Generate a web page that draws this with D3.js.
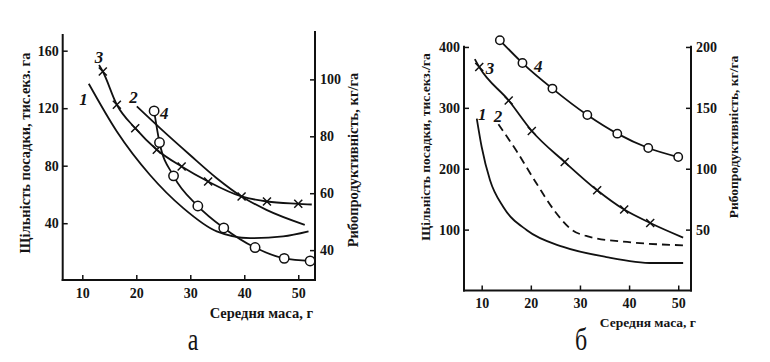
<!DOCTYPE html>
<html>
<head>
<meta charset="utf-8">
<script src="https://cdn.jsdelivr.net/npm/d3@7"></script>
<style>
    body { margin: 0; background: #fff; }
</style>
</head>
<body>
<div id="chart"></div>
<script>

/* * * * * * * * * * * * * *
*     Panel a  (left)      *
* * * * * * * * * * * * * */

// curve 1
const aMass1 = [11.2, 16.4, 22.5, 28.7, 34.9, 41.1, 47.2, 51.9];
const aVal1  = [137, 103.8, 73.7, 50.5, 34.3, 29.6, 30.8, 34.3];
// curve 2
const aMass2 = [20.1, 24.4, 29.9, 34.9, 39.5, 44.1, 51.2];
const aVal2  = [121.2, 106.1, 87.6, 71.3, 58.6, 49.3, 38.9];
// curve 3 (crosses), first and last point are line ends only
const aMass3 = [13.1, 13.8, 16.4, 19.8, 23.8, 28.4, 33.3, 39.5, 44.2, 50.0, 52.5];
const aVal3  = [150, 145.5, 122.4, 106.1, 91.1, 79.4, 69.0, 58.6, 55.1, 53.5, 53.0];
// curve 4 (circles) - right axis, kg/ha
const aMass4 = [23.3, 24.3, 26.9, 31.4, 36.2, 42.0, 47.4, 52.2];
const aVal4  = [88.9, 77.8, 66.1, 55.5, 47.8, 40.9, 37.1, 36.2];

const aMassTicks  = [10, 20, 30, 40, 50];
const aLeftTicks  = [40, 80, 120, 160];
const aRightTicks = [40, 60, 80, 100];
const aCurveNames = ["1", "2", "3", "4"];
const aNameMass   = [10.2, 19.5, 13.1, 25.2];
const aNameVal    = [126.7, 127.9, 155.7, 116.3];

/* * * * * * * * * * * * * *
*     Panel б  (right)     *
* * * * * * * * * * * * * */

const bMass1 = [9.0, 10.0, 11.7, 14.4, 19.2, 26.6, 35.4, 44.9, 51.0];
const bVal1  = [282.4, 235.7, 181.0, 137.2, 98.9, 71.5, 55.0, 45.2, 45.2];
// curve 2 is dashed
const bMass2 = [13.4, 17.1, 21.3, 25.0, 28.3, 31.8, 39.6, 51.0];
const bVal2  = [273, 229, 174, 129, 100, 88.5, 79.7, 74.2];
const bMass3 = [8.6, 9.5, 15.5, 20.2, 26.9, 33.5, 39.0, 44.3, 51.0];
const bVal3  = [380, 367, 312, 262, 211, 164.6, 132.9, 110.9, 86.9];
// curve 4 (circles) - right axis
const bMass4 = [13.7, 18.3, 24.4, 31.5, 37.6, 43.9, 50.0];
const bVal4  = [205.5, 186.8, 165.8, 144.1, 128.8, 117.0, 109.6];

const bMassTicks  = [10, 20, 30, 40, 50];
const bLeftTicks  = [100, 200, 300, 400];
const bRightTicks = [50, 100, 150, 200];
const bCurveNames = ["1", "2", "3", "4"];
const bNameMass   = [10.1, 13.3, 11.7, 21.5];
const bNameVal    = [289, 286, 366, 368];


const SERIF = "'Liberation Serif', 'Times New Roman', 'DejaVu Serif', serif";
const zip = (xs, ys) => xs.map((x, i) => [x, ys[i]]);

let svg = d3.select("#chart").append("svg")
    .attr("width", 770)
    .attr("height", 362)
    .style("font-family", SERIF);

svg.append("rect").attr("width", 770).attr("height", 362).attr("fill", "#fff");


function drawPanel(p) {
    let g = svg.append("g");

    let x = d3.scaleLinear().domain(p.xDomain).range([p.left, p.right]);
    let yL = d3.scaleLinear().domain(p.yLeftDomain).range([p.bottom, p.top]);
    let yR = d3.scaleLinear().domain(p.yRightDomain).range([p.bottom, p.top]);

    // axes, ticks point inwards
    g.append("g")
        .attr("transform", "translate(0," + p.bottom + ")")
        .call(d3.axisBottom(x).tickValues(p.xTicks).tickSize(-5).tickPadding(8))
        .call(a => a.select(".domain").remove());

    g.append("g")
        .attr("transform", "translate(" + p.left + ",0)")
        .call(d3.axisLeft(yL).tickValues(p.leftTicks).tickSize(-5).tickPadding(4))
        .call(a => a.select(".domain").remove());

    g.append("g")
        .attr("transform", "translate(" + p.right + ",0)")
        .call(d3.axisRight(yR).tickValues(p.rightTicks).tickSize(-5).tickPadding(5))
        .call(a => a.select(".domain").remove());

    g.selectAll(".tick line").attr("stroke", "#111").attr("stroke-width", 1.5);
    g.selectAll(".tick text")
        .style("font-family", SERIF)
        .style("font-size", "14px")
        .style("font-weight", "bold")
        .attr("fill", "#141414");

    // frame: left, right and bottom lines
    let frame = [
        [p.left, p.bottom, p.left, p.topLeft],
        [p.right, p.bottom, p.right, p.topRight],
        [p.left, p.bottom, p.right, p.bottom]
    ];
    frame.forEach(f => {
        g.append("line")
            .attr("x1", f[0]).attr("y1", f[1])
            .attr("x2", f[2]).attr("y2", f[3])
            .attr("stroke", "#111")
            .attr("stroke-width", 2)
            .attr("stroke-linecap", "square");
    });

    // curves
    p.series.forEach(s => {
        let yScale = s.axis === "right" ? yR : yL;
        let line = d3.line()
            .x(d => x(d[0]))
            .y(d => yScale(d[1]))
            .curve(d3.curveMonotoneX);

        g.append("path")
            .datum(s.points)
            .attr("d", line)
            .attr("fill", "none")
            .attr("stroke", "#111")
            .attr("stroke-width", 1.8)
            .attr("stroke-dasharray", s.dashed ? "8,5" : null);

        let pts = s.points.slice(s.markFrom, s.points.length - s.markSkipEnd);

        if (s.marker === "circle") {
            g.selectAll(null).data(pts).enter()
                .append("circle")
                .attr("cx", d => x(d[0]))
                .attr("cy", d => yScale(d[1]))
                .attr("r", p.circleR)
                .attr("fill", "#fff")
                .attr("stroke", "#111")
                .attr("stroke-width", 1.5);
        } else if (s.marker === "cross") {
            g.selectAll(null).data(pts).enter()
                .append("path")
                .attr("transform", d => "translate(" + x(d[0]) + "," + yScale(d[1]) + ")")
                .attr("d", "M-4,-4L4,4M-4,4L4,-4")
                .attr("stroke", "#111")
                .attr("stroke-width", 1.5);
        }
    });

    // curve numbers
    p.names.forEach((n, i) => {
        g.append("text")
            .attr("x", x(p.nameMass[i]))
            .attr("y", yL(p.nameVal[i]))
            .attr("dy", "0.35em")
            .attr("text-anchor", "middle")
            .attr("fill", "#141414")
            .style("font-size", "17px")
            .style("font-weight", "bold")
            .style("font-style", "italic")
            .text(n);
    });

    // axis titles
    g.append("text")
        .attr("transform", "translate(" + p.leftTitlePos[0] + "," + p.leftTitlePos[1] + ") rotate(-90)")
        .attr("text-anchor", "middle")
        .attr("fill", "#141414")
        .style("font-size", p.titleSize + "px")
        .style("font-weight", "bold")
        .text(p.leftTitle);

    g.append("text")
        .attr("transform", "translate(" + p.rightTitlePos[0] + "," + p.rightTitlePos[1] + ") rotate(-90)")
        .attr("text-anchor", "middle")
        .attr("fill", "#141414")
        .style("font-size", p.titleSize + "px")
        .style("font-weight", "bold")
        .text(p.rightTitle);

    g.append("text")
        .attr("x", p.xTitlePos[0])
        .attr("y", p.xTitlePos[1])
        .attr("text-anchor", "end")
        .attr("fill", "#141414")
        .style("font-size", p.titleSize + "px")
        .style("font-weight", "bold")
        .text("Середня маса, г");

    // panel letter
    g.append("text")
        .attr("transform", "translate(" + p.letterPos[0] + "," + p.letterPos[1] + ") scale(1,1.35)")
        .attr("text-anchor", "middle")
        .attr("fill", "#141414")
        .style("font-size", "24px")
        .text(p.letter);
}


drawPanel({
    left: 62.7, right: 315, bottom: 280, top: 33, topLeft: 35, topRight: 32,
    xDomain: [6.37, 53.1], yLeftDomain: [0.5, 172.3], yRightDomain: [29.5, 116.3],
    xTicks: aMassTicks, leftTicks: aLeftTicks, rightTicks: aRightTicks,
    circleR: 4.7,
    series: [
        { points: zip(aMass1, aVal1), axis: "left" },
        { points: zip(aMass2, aVal2), axis: "left" },
        { points: zip(aMass3, aVal3), axis: "left", marker: "cross", markFrom: 1, markSkipEnd: 1 },
        { points: zip(aMass4, aVal4), axis: "right", marker: "circle", markFrom: 0, markSkipEnd: 0 }
    ],
    names: aCurveNames, nameMass: aNameMass, nameVal: aNameVal,
    leftTitle: "Щільність посадки, тис.екз. га",
    rightTitle: "Рибопродуктивність, кг/га",
    titleSize: 14.5,
    leftTitlePos: [30, 153], rightTitlePos: [358, 160], xTitlePos: [313, 318],
    letter: "а", letterPos: [193, 350]
});

drawPanel({
    left: 464, right: 691, bottom: 290.5, top: 43, topLeft: 46.7, topRight: 46.7,
    xDomain: [6.4, 52.6], yLeftDomain: [0, 406.5], yRightDomain: [0, 203.25],
    xTicks: bMassTicks, leftTicks: bLeftTicks, rightTicks: bRightTicks,
    circleR: 4.2,
    series: [
        { points: zip(bMass1, bVal1), axis: "left" },
        { points: zip(bMass2, bVal2), axis: "left", dashed: true },
        { points: zip(bMass3, bVal3), axis: "left", marker: "cross", markFrom: 1, markSkipEnd: 1 },
        { points: zip(bMass4, bVal4), axis: "right", marker: "circle", markFrom: 0, markSkipEnd: 0 }
    ],
    names: bCurveNames, nameMass: bNameMass, nameVal: bNameVal,
    leftTitle: "Щільність посадки, тис.екз./га",
    rightTitle: "Рибопродуктивність, кг/га",
    titleSize: 13.5,
    leftTitlePos: [430, 147], rightTitlePos: [738, 137], xTitlePos: [696, 327],
    letter: "б", letterPos: [581, 350]
});

</script>
</body>
</html>
